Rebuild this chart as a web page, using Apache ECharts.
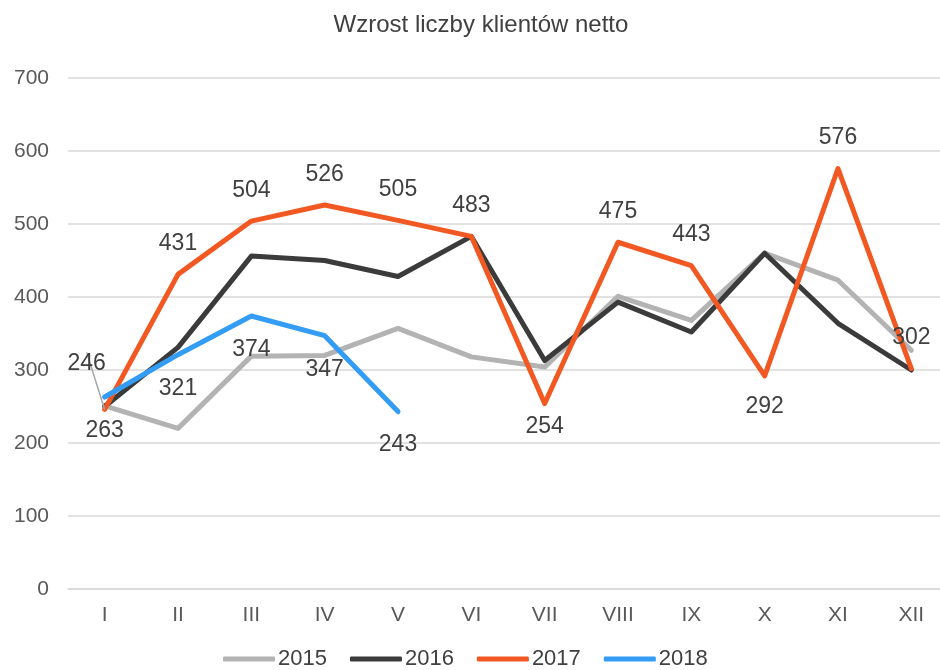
<!DOCTYPE html>
<html>
<head>
    <meta charset="utf-8">
    <title>Wzrost liczby klientów netto</title>
    <script src="https://cdn.jsdelivr.net/npm/echarts@6/dist/echarts.min.js"></script>
</head>
<body style="margin:0;overflow:hidden">
    <div id="main" style="width: 948px;height:670px;"></div>
    <script type="text/javascript">
        var months = ['I', 'II', 'III', 'IV', 'V', 'VI', 'VII', 'VIII', 'IX', 'X', 'XI', 'XII'];
        var years = ['2015', '2016', '2017', '2018'];
        var data2015 = [251, 220, 319, 320, 357, 318, 304, 401, 368, 460, 423, 327];
        var data2016 = [250, 331, 456, 450, 428, 483, 313, 393, 352, 460, 364, 300];
        var data2017 = [246, 431, 504, 526, 505, 483, 254, 475, 443, 292, 576, 302];
        var data2018 = [263, 321, 374, 347, 243];
        // which 2017 labels sit under the point
        var below2017 = [6, 9];

        var myChart = echarts.init(document.getElementById('main'));
        var font = 'Liberation Sans, Arial, sans-serif';

        function lineSeries(name, values, color, z) {
            return {
                name: name,
                type: 'line',
                data: values,
                symbol: 'circle',
                symbolSize: 0,
                showSymbol: true,
                z: z,
                lineStyle: { width: 5, color: color, cap: 'round', join: 'round' },
                itemStyle: { color: color }
            };
        }

        var s2017 = lineSeries('2017', data2017.map(function (v, i) {
            var item = { value: v, label: { position: below2017.indexOf(i) >= 0 ? 'bottom' : 'top' } };
            if (i === 6) item.label.distance = 12;
            if (i === 0) item.labelLine = { show: true };
            return item;
        }), '#f25822', 4);
        s2017.label = {
            show: true, fontSize: 23, color: '#404040', fontFamily: font, distance: 19
        };
        s2017.labelLine = { show: false, lineStyle: { color: '#a6a6a6', width: 1.5 } };
        s2017.labelLayout = function (params) {
            if (params.dataIndex === 0) {
                return { dx: -18, dy: -15 };
            }
        };

        var s2018 = lineSeries('2018', data2018, '#339cf5', 5);
        s2018.label = {
            show: true, position: 'bottom', fontSize: 23, color: '#404040', fontFamily: font, distance: 22
        };

        var option = {
            animation: false,
            title: {
                text: 'Wzrost liczby klientów netto',
                left: 476,
                textAlign: 'center',
                top: 8,
                textStyle: { fontSize: 24, fontWeight: 'normal', color: '#404040', fontFamily: font }
            },
            legend: {
                top: 643,
                left: 218,
                itemWidth: 52,
                itemHeight: 5,
                itemGap: 23,
                textStyle: { fontSize: 22, color: '#404040', fontFamily: font, padding: [0, 0, 0, -2] },
                data: years.map(function (y) {
                    return { name: y, icon: 'roundRect' };
                })
            },
            grid: { left: 68, right: 0, top: 78, bottom: 81, containLabel: false },
            xAxis: {
                type: 'category',
                data: months,
                boundaryGap: true,
                axisLine: { lineStyle: { color: '#d9d9d9', width: 1.5 } },
                axisTick: { show: false },
                axisLabel: { fontSize: 21, color: '#595959', fontFamily: font, margin: 16 }
            },
            yAxis: {
                type: 'value',
                min: 0,
                max: 700,
                interval: 100,
                axisLabel: { fontSize: 21, color: '#595959', fontFamily: font, margin: 19 },
                splitLine: { lineStyle: { color: '#d9d9d9', width: 1.5 } }
            },
            series: [
                lineSeries('2015', data2015, '#b3b3b3', 2),
                lineSeries('2016', data2016, '#3b3b3b', 3),
                s2017,
                s2018
            ]
        };

        myChart.setOption(option);
    </script>
</body>
</html>
